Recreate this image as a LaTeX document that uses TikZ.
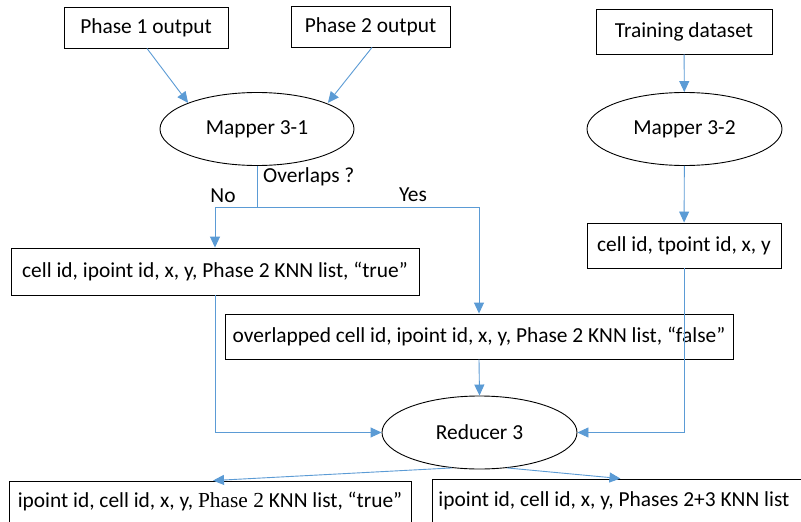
\documentclass[tikz,border=0pt]{standalone}
\usepackage{fontspec}
\setmainfont{Carlito}
\newfontfamily\tnr{Liberation Serif}
\usetikzlibrary{arrows.meta,shapes.geometric}
\definecolor{arrblue}{HTML}{5B9BD5}
\begin{document}
\begin{tikzpicture}[x=1pt,y=-1pt,
  every node/.style={font=\fontsize{21.4}{24}\selectfont},
  box/.style={draw=black, line width=0.9pt, rectangle, inner sep=0pt},
  oval/.style={draw=black, line width=0.9pt, ellipse, inner sep=0pt},
  arr/.style={draw=arrblue, line width=0.9pt, -{Triangle[length=11pt,width=10pt]}},
  ln/.style={draw=arrblue, line width=0.9pt},
  lbl/.style={inner sep=0pt}]
\useasboundingbox (0,0) rectangle (801,522);
\fill[white] (0,0) rectangle (801,522);

\node[box, minimum width=164pt, minimum height=41pt] (p1) at (146,27.5) {Phase 1 output};
\node[box, minimum width=159pt, minimum height=41pt] (p2) at (370.5,26.5) {Phase 2 output};
\node[box, minimum width=176pt, minimum height=45pt] (tr) at (684,31.5) {Training dataset};

\node[oval, minimum width=194pt, minimum height=73pt] (m1) at (257,129) {Mapper 3-1};
\node[oval, minimum width=195pt, minimum height=73pt] (m2) at (684.5,129) {Mapper 3-2};

\node[box, minimum width=408pt, minimum height=47pt] (tb) at (215,271.5) {cell id, ipoint id, x, y, Phase 2 KNN list, “true”};
\node[box, minimum width=194pt, minimum height=45pt] (tp) at (684,245.5) {cell id, tpoint id, x, y};
\node[box, minimum width=508pt, minimum height=45pt] (ov) at (479,336.5) {overlapped cell id, ipoint id, x, y, Phase 2 KNN list, “false”};

\node[oval, minimum width=195pt, minimum height=73pt] (red) at (479.5,432.5) {Reducer 3};

\node[box, minimum width=402pt, minimum height=42pt] (bl) at (210,502) {ipoint id, cell id, x, y, {\tnr Phase 2} KNN list, “true”};
\node[box, anchor=west, inner xsep=6pt, minimum width=373pt, minimum height=44pt] (br) at (432,501) {\makebox[361pt][l]{ipoint id, cell id, x, y, Phases 2+3 KNN list}};

\coordinate (split) at (257,207.5);
\node[lbl, anchor=west] (ovl) at (263,177) {Overlaps ?};
\node[lbl] (no) at (223,196) {No};
\node[lbl] (yes) at (413,195) {Yes};

\draw[arr] ([xshift=1pt]p1.south) -- (m1.north west);
\draw[arr] ([xshift=1.5pt]p2.south) -- ([xshift=2pt]m1.north east);
\draw[arr] (tr) -- (m2);
\draw[arr] (m2) -- (tp);
\draw[ln] (m1.south) -- (split);
\draw[arr] (split) -| (tb.north);
\draw[arr] (split) -| (ov.north);
\draw[arr] (tb.south) |- (red.west);
\draw[arr] (tp.south) |- (red.east);
\draw[arr] (ov.south) -- (red.north);
\draw[arr] (red.-128) -- ([xshift=3pt]bl.north);
\draw[arr] (red.-52) -- ([xshift=1.5pt]br.north);
\end{tikzpicture}
\end{document}
